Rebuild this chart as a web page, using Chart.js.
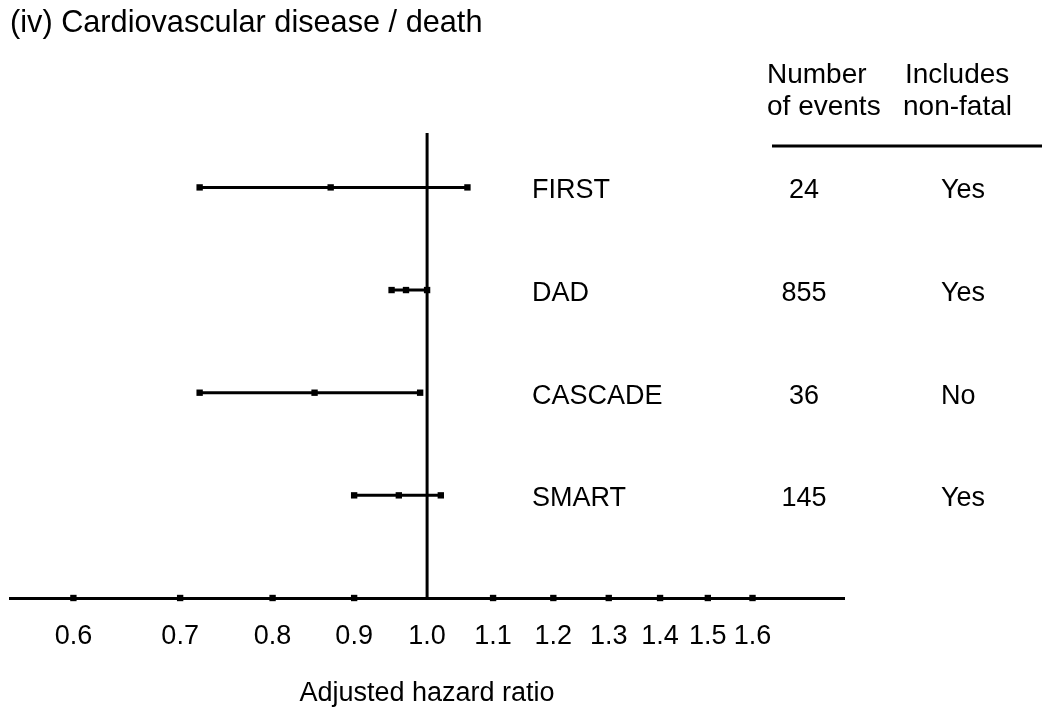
<!DOCTYPE html>
<html lang="en">
<head>
    <meta charset="UTF-8">
    <title>Cardiovascular disease / death</title>
    <script src="https://cdn.jsdelivr.net/npm/chart.js"></script>
    <style>
        html, body { margin: 0; padding: 0; background: #fff; }
        canvas { display: block; }
    </style>
</head>
<body>
    <canvas id="forest" width="1050" height="721"></canvas>

    <script>
        // Data
        const studies = ['FIRST', 'DAD', 'CASCADE', 'SMART'];
        const hrLow = [0.72, 0.95, 0.72, 0.90];
        const hrEst = [0.87, 0.97, 0.85, 0.96];
        const hrHigh = [1.06, 1.00, 0.99, 1.02];
        const events = ['24', '855', '36', '145'];
        const nonFatal = ['Yes', 'Yes', 'No', 'Yes'];
        const tickValues = [0.6, 0.7, 0.8, 0.9, 1.0, 1.1, 1.2, 1.3, 1.4, 1.5, 1.6];

        const FONT = '"Liberation Sans", Arial, sans-serif';
        const yTop = 4.53;

        // rows: first study at top
        const rowOf = i => studies.length - i;

        const datasets = studies.map((name, i) => ({
            label: name,
            data: [
                { x: hrLow[i], y: rowOf(i) },
                { x: hrEst[i], y: rowOf(i) },
                { x: hrHigh[i], y: rowOf(i) }
            ],
            showLine: true,
            borderColor: '#000',
            borderWidth: 3,
            pointStyle: 'rect',
            pointRadius: 4.5,
            pointBorderWidth: 0,
            pointBackgroundColor: '#000',
            clip: false
        }));

        // line of no effect
        datasets.push({
            label: 'ref',
            data: [{ x: 1, y: 0 }, { x: 1, y: yTop }],
            showLine: true,
            borderColor: '#000',
            borderWidth: 3,
            pointRadius: 0,
            clip: false
        });

        // square tick marks on the axis (none where the reference line sits)
        datasets.push({
            label: 'ticks',
            data: tickValues.filter(v => v !== 1).map(v => ({ x: v, y: 0 })),
            showLine: false,
            pointStyle: 'rect',
            pointRadius: 4.5,
            pointBorderWidth: 0,
            pointBackgroundColor: '#000',
            clip: false
        });

        // text outside the plot: title, study names, table columns
        const textPlugin = {
            id: 'forestText',
            afterDraw(chart) {
                const ctx = chart.ctx;
                const y = chart.scales.y;
                ctx.save();
                ctx.fillStyle = '#000';
                ctx.textBaseline = 'alphabetic';

                ctx.font = '30.7px ' + FONT;
                ctx.textAlign = 'left';
                ctx.fillText('(iv) Cardiovascular disease / death', 10, 32);

                ctx.font = '28px ' + FONT;
                ctx.fillText('Number', 767, 83);
                ctx.fillText('of events', 767, 115);
                ctx.fillText('Includes', 905, 83);
                ctx.fillText('non-fatal', 903, 115);

                ctx.strokeStyle = '#000';
                ctx.lineWidth = 3;
                ctx.beginPath();
                ctx.moveTo(772, 146);
                ctx.lineTo(1042, 146);
                ctx.stroke();

                ctx.font = '27px ' + FONT;
                studies.forEach((name, i) => {
                    const py = y.getPixelForValue(rowOf(i)) + 11;
                    ctx.textAlign = 'left';
                    ctx.fillText(name, 532, py);
                    ctx.textAlign = 'center';
                    ctx.fillText(events[i], 804, py);
                    ctx.textAlign = 'left';
                    ctx.fillText(nonFatal[i], 941, py);
                });
                ctx.restore();
            }
        };

        const chart = new Chart(document.getElementById('forest'), {
            type: 'scatter',
            data: { datasets },
            options: {
                responsive: false,
                animation: false,
                devicePixelRatio: 1,
                layout: { padding: { left: 10, right: 206, top: 133, bottom: 0 } },
                plugins: {
                    legend: { display: false },
                    tooltip: { enabled: false }
                },
                scales: {
                    x: {
                        type: 'logarithmic',
                        position: 'bottom',
                        min: 0.5475,
                        max: 1.826,
                        grid: { display: false },
                        border: { display: true, color: '#000', width: 3 },
                        afterBuildTicks: scale => {
                            scale.ticks = tickValues.map(v => ({ value: v }));
                        },
                        afterFit: scale => { scale.height = 123; },
                        ticks: {
                            autoSkip: false,
                            maxRotation: 0,
                            minRotation: 0,
                            padding: 14,
                            color: '#000',
                            font: { size: 27, family: FONT },
                            callback: v => Number(v).toFixed(1)
                        },
                        title: {
                            display: true,
                            text: 'Adjusted hazard ratio',
                            color: '#000',
                            font: { size: 27, family: FONT },
                            padding: { top: 0, bottom: 11 }
                        }
                    },
                    y: {
                        type: 'linear',
                        min: 0,
                        max: yTop,
                        display: false
                    }
                }
            },
            plugins: [textPlugin]
        });
    </script>
</body>
</html>
